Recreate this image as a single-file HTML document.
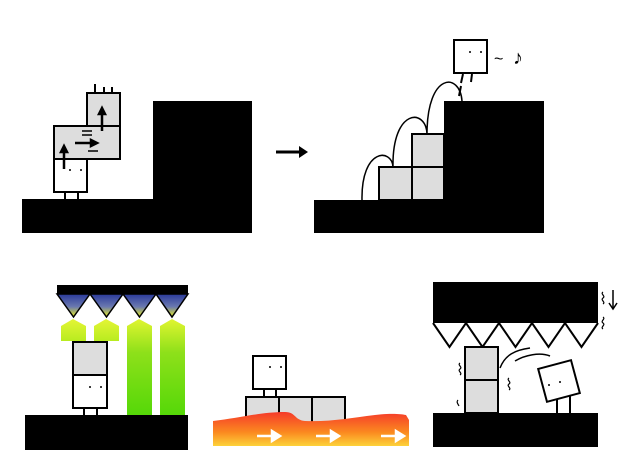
<!DOCTYPE html>
<html><head><style>html,body{margin:0;padding:0;background:#fff;}svg{display:block}</style></head>
<body>
<svg width="636" height="471" viewBox="0 0 636 471" xmlns="http://www.w3.org/2000/svg" font-family="Liberation Sans, sans-serif">
<defs>
<linearGradient id="tri" x1="0" y1="0" x2="0" y2="1"><stop offset="0" stop-color="#2a3a9a"/><stop offset="0.55" stop-color="#6a78b0"/><stop offset="1" stop-color="#e8f020"/></linearGradient>
<linearGradient id="beam" x1="0" y1="0" x2="0" y2="1"><stop offset="0" stop-color="#e0f530"/><stop offset="0.35" stop-color="#8ee01a"/><stop offset="1" stop-color="#55d808"/></linearGradient>
<linearGradient id="beamS" x1="0" y1="0" x2="0" y2="1"><stop offset="0" stop-color="#e4f535"/><stop offset="1" stop-color="#b8ec20"/></linearGradient>
<linearGradient id="lava" x1="0" y1="0" x2="0" y2="1"><stop offset="0" stop-color="#f53a2a"/><stop offset="0.6" stop-color="#fb8a20"/><stop offset="1" stop-color="#fdd23a"/></linearGradient>
</defs>
<g stroke="#000" stroke-width="2">
<rect x="22" y="199" width="230" height="34" fill="#000" stroke="none"/>
<rect x="153" y="101" width="99" height="99" fill="#000" stroke="none"/>
<rect x="54" y="126" width="66" height="33" fill="#ddd"/>
<rect x="87" y="93" width="33" height="33" fill="#ddd"/>
<rect x="54" y="159" width="33" height="33" fill="#fff"/>
<path d="M65 192v7M78 192v7" fill="none"/>
<path d="M95 84v9M104 87v6M112 87v6M87 93h33" fill="none"/>
<path d="M82 131h10M82 135h10M88 151h10" fill="none" stroke-width="1.5"/>
</g>
<g stroke="#000" stroke-width="2.5" fill="none">
<path d="M64 169v-20"/><path d="M61 152l3-6 3 6z" fill="#000"/>
<path d="M102 131v-20"/><path d="M99 114l3-6 3 6z" fill="#000"/>
<path d="M75 143h18"/><path d="M91 140l6 3-6 3z" fill="#000"/>
</g>
<circle cx="70" cy="170" r="1" fill="#000"/><circle cx="81" cy="170" r="1" fill="#000"/>
<path d="M276 152h26" stroke="#000" stroke-width="3"/><path d="M299 146l9 6-9 6z" fill="#000"/>
<g stroke="#000" stroke-width="2">
<rect x="314" y="200" width="230" height="33" fill="#000" stroke="none"/>
<rect x="444" y="101" width="100" height="100" fill="#000" stroke="none"/>
<rect x="379" y="167" width="33" height="33" fill="#ddd"/>
<rect x="412" y="167" width="32" height="33" fill="#ddd"/>
<rect x="412" y="134" width="32" height="33" fill="#ddd"/>
<rect x="454" y="40" width="33" height="33" fill="#fff"/>
<path d="M362 200C361 148 392 148 393 167M393 167C392 108 426 108 427 134M427 134C427 72 460 72 462 101" fill="none" stroke-width="1.5"/>
<path d="M463 74l-2 9M461 86l-2 10M472 74l-1 8" fill="none" stroke-width="2"/>
</g>
<circle cx="470" cy="52" r="1" fill="#000"/><circle cx="481" cy="52" r="1" fill="#000"/>
<text x="494" y="64" font-size="16">~</text>
<text x="513" y="64" font-size="20">♪</text>
<rect x="57" y="285" width="131" height="9" fill="#000"/>
<g stroke="#000" stroke-width="1.5" fill="url(#tri)">
<path d="M57 294h33l-16.5 23z"/><path d="M90 294h33l-16.5 23z"/><path d="M123 294h33l-16.5 23z"/><path d="M156 294h32l-16 23z"/>
</g>
<path d="M61 326l12-7 13 7v15H61z" fill="url(#beamS)"/>
<path d="M94 326l12-7 13 7v15H94z" fill="url(#beamS)"/>
<path d="M127 326l12-7 13 7v89h-25z" fill="url(#beam)"/>
<path d="M160 326l12-7 13 7v89h-25z" fill="url(#beam)"/>
<g stroke="#000" stroke-width="2">
<rect x="73" y="342" width="34" height="33" fill="#ddd"/>
<rect x="73" y="375" width="34" height="33" fill="#fff"/>
<path d="M84 408v7M97 408v7" fill="none"/>
</g>
<circle cx="90" cy="387" r="1" fill="#000"/><circle cx="101" cy="387" r="1" fill="#000"/>
<rect x="25" y="415" width="163" height="35" fill="#000"/>
<g stroke="#000" stroke-width="2">
<rect x="246" y="397" width="33" height="27" fill="#ddd"/>
<rect x="279" y="397" width="33" height="27" fill="#ddd"/>
<rect x="312" y="397" width="33" height="27" fill="#ddd"/>
<rect x="253" y="356" width="33" height="33" fill="#fff"/>
<path d="M264 389v8M276 389v8" fill="none"/>
</g>
<circle cx="270" cy="367" r="1" fill="#000"/><circle cx="281" cy="367" r="1" fill="#000"/>
<path d="M213 421C240 418 260 412 285 412C296 412 294 420 305 421C330 422 350 418 375 415C390 413 402 414 406 415L409 420V446H213z" fill="url(#lava)"/>
<g stroke="#fff" stroke-width="2.5" fill="#fff">
<path d="M257 436h17"/><path d="M272 431l8 5-8 5z"/>
<path d="M316 436h17"/><path d="M331 431l8 5-8 5z"/>
<path d="M381 436h17"/><path d="M396 431l8 5-8 5z"/>
</g>
<rect x="433" y="282" width="165" height="41" fill="#000"/>
<g stroke="#000" stroke-width="2" fill="#fff">
<path d="M433 323l16.5 24 16.5-24 16.5 24 16.5-24 16.5 24 16.5-24 16.5 24 16.5-24 16.5 24 16.5-24"/>
<rect x="465" y="347" width="33" height="33" fill="#ddd"/>
<rect x="465" y="380" width="33" height="33" fill="#ddd"/>
<g transform="rotate(-15 559 381)"><rect x="542" y="364" width="34" height="34"/></g>
<path d="M557 399v14M570 396v17" fill="none"/>
<path d="M500 368C505 355 515 350 530 348M515 361C525 355 540 352 550 356" fill="none" stroke-width="1.5"/>
<path d="M460 363c-3 2 3 4 0 6s3 4 0 6M509 378c-3 2 3 4 0 6s3 4 0 6M458 400c-2 2 0 4 1 6M603 292c-3 2 3 4 0 6s3 4 0 6M603 317c3 2-3 4 0 6s-3 4 0 6" fill="none" stroke-width="1.2"/>
</g>
<circle cx="549" cy="385" r="1" fill="#000"/><circle cx="560" cy="382" r="1" fill="#000"/>
<path d="M613 290v18" stroke="#000" stroke-width="1.5"/><path d="M609 303l4 6 4-6" stroke="#000" stroke-width="1.5" fill="none"/>
<rect x="433" y="413" width="165" height="34" fill="#000"/>
</svg>
</body></html>
